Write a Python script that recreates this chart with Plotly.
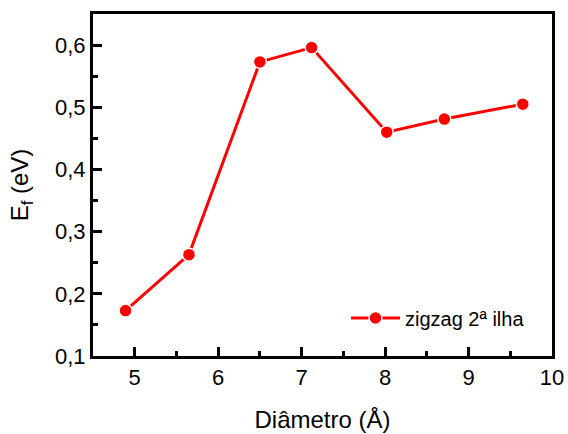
import plotly.graph_objects as go

# Formation energy versus tube diameter
diametro = [4.89, 5.65, 6.50, 7.12, 8.02, 8.71, 9.65]
energia_f = [0.173, 0.263, 0.573, 0.596, 0.460, 0.481, 0.505]
serie_nome = "zigzag 2ª ilha"

FONTE = "Liberation Sans, Arial"

fig = go.Figure()
fig.add_trace(go.Scatter(
    x=diametro, y=energia_f, name=serie_nome,
    mode="lines+markers",
    line=dict(color="#ff0000", width=3),
    marker=dict(color="#ff0000", size=13, line=dict(color="white", width=1.5)),
))

axis_common = dict(
    showline=True, linecolor="black", linewidth=3, mirror=True,
    ticks="inside", ticklen=9, tickwidth=2.5, tickcolor="black",
    showgrid=False, zeroline=False, automargin=False,
    tickfont=dict(family=FONTE, size=22, color="black"),
)

fig.update_xaxes(
    range=[4.5, 10], dtick=1, tick0=5,
    minor=dict(ticks="inside", ticklen=5, tickwidth=2.5, tickcolor="black", dtick=0.5),
    title=dict(text="Diâmetro (Å)", font=dict(family=FONTE, size=24, color="black"), standoff=22),
    **axis_common,
)
fig.update_yaxes(
    range=[0.1, 0.65], dtick=0.1, tick0=0.1, tickformat=".1f",
    minor=dict(ticks="inside", ticklen=5, tickwidth=2.5, tickcolor="black", dtick=0.05),
    title=dict(text="E<sub>f</sub> (eV)", font=dict(family=FONTE, size=24, color="black"), standoff=20),
    **axis_common,
)

fig.update_layout(
    width=568, height=434,
    margin=dict(l=93, r=16, t=14, b=78),
    paper_bgcolor="white", plot_bgcolor="white",
    separators=",.",
    showlegend=True,
    legend=dict(
        x=0.952, y=0.111, xanchor="right", yanchor="middle",
        bgcolor="rgba(0,0,0,0)", borderwidth=0,
        font=dict(family=FONTE, size=20, color="black"),
        itemwidth=49,
    ),
)

fig.write_html("out.html")
